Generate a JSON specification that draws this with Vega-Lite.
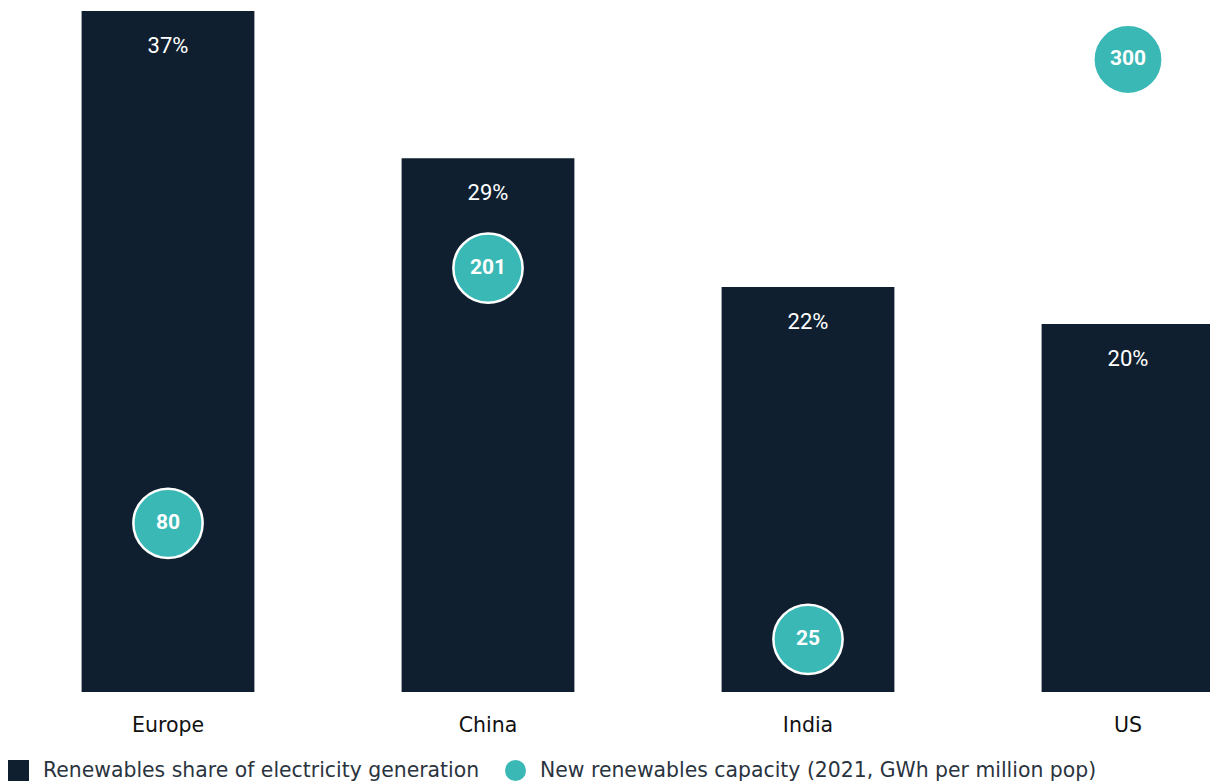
{
  "$schema": "https://vega.github.io/schema/vega-lite/v6.json",
  "width": 1280,
  "height": 681,
  "autosize": "none",
  "padding": {"left": 8, "top": 11, "right": 0, "bottom": 91},
  "background": "white",
  "config": {
    "view": {"stroke": null},
    "font": "Roboto",
    "axis": {"labelFont": "DejaVu Sans", "labelFontSize": 20.5, "labelColor": "#111111", "grid": false}
  },
  "data": {
    "values": [
      {"region": "Europe", "share": 0.37, "cap": 80},
      {"region": "China", "share": 0.29, "cap": 201},
      {"region": "India", "share": 0.22, "cap": 25},
      {"region": "US", "share": 0.20, "cap": 300}
    ]
  },
  "layer": [
    {
      "encoding": {
        "x": {"field": "region", "type": "nominal", "sort": ["Europe", "China", "India", "US"],
              "scale": {"paddingInner": 0.46, "paddingOuter": 0.23},
              "axis": {"title": null, "ticks": false, "domain": false, "labelAngle": 0, "labelPadding": 23}},
        "y": {"field": "share", "type": "quantitative", "scale": {"domain": [0, 0.37], "nice": false, "zero": true}, "axis": null}
      },
      "layer": [
        {
          "mark": {"type": "bar"},
          "encoding": {
            "color": {"datum": "Renewables share of electricity generation", "type": "nominal",
              "scale": {"domain": ["Renewables share of electricity generation", "New renewables capacity (2021, GWh per million pop)"], "range": ["#0f1f2f", "#3ab8b5"]},
              "legend": {
                "title": null, "orient": "none", "legendX": 0, "legendY": 749, "direction": "horizontal",
                "labelFont": "DejaVu Sans", "labelFontSize": 20.4, "labelColor": "#2a3440", "symbolSize": 440,
                "labelOffset": 14, "columnPadding": 25, "symbolStrokeWidth": 0, "labelLimit": 700,
                "encode": {"symbols": {"update": {"shape": {"signal": "datum.value === 'Renewables share of electricity generation' ? 'square' : 'circle'"}}}}
              }
            }
          }
        },
        {
          "mark": {"type": "text", "dy": 35, "baseline": "middle", "align": "center", "color": "white", "fontSize": 22, "font": "Roboto"},
          "encoding": {"text": {"field": "share", "type": "quantitative", "format": ".0%"}}
        }
      ]
    },
    {
      "encoding": {
        "x": {"field": "region", "type": "nominal", "sort": ["Europe", "China", "India", "US"]},
        "y": {"field": "cap", "type": "quantitative", "scale": {"domain": [0, 323], "nice": false, "zero": true}, "axis": null}
      },
      "layer": [
        {
          "mark": {"type": "point", "shape": "circle", "filled": true, "size": 4800, "stroke": "white", "strokeWidth": 2.5, "opacity": 1},
          "encoding": {
            "color": {"datum": "New renewables capacity (2021, GWh per million pop)", "type": "nominal"}
          }
        },
        {
          "mark": {"type": "text", "baseline": "middle", "align": "center", "color": "white", "fontSize": 21, "fontWeight": "bold", "font": "Roboto"},
          "encoding": {"text": {"field": "cap", "type": "quantitative"}}
        }
      ]
    }
  ],
  "resolve": {"scale": {"y": "independent"}}
}
